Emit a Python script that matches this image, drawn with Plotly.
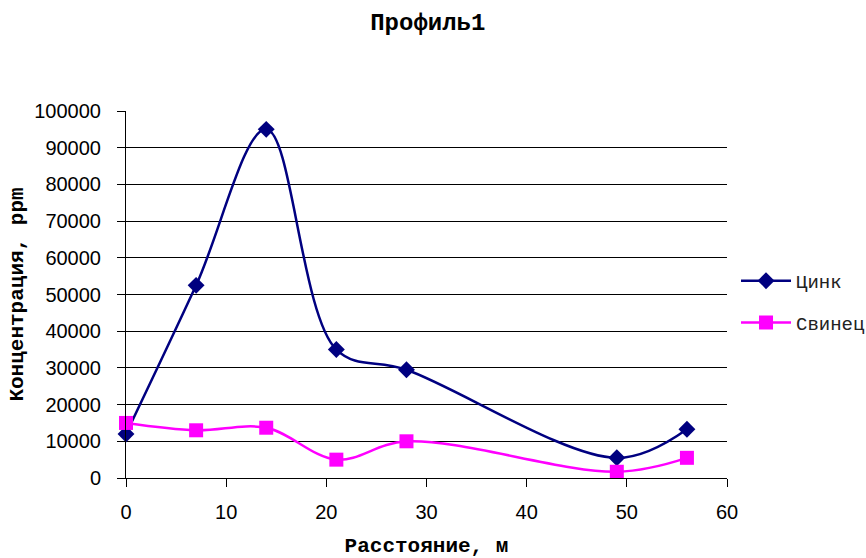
import plotly.graph_objects as go

distance = [0, 7, 14, 21, 28, 49, 56]
zinc = [12000, 52500, 95000, 35000, 29500, 5500, 13300]
lead = [15000, 13000, 13700, 5000, 10000, 1700, 5500]

title_text = "Профиль1"
x_title = "Расстояние, м"
y_title = "Концентрация, ppm"

mono = "Courier New, Nimbus Mono PS, Liberation Mono, monospace"

fig = go.Figure()
fig.add_trace(go.Scatter(
    x=distance, y=zinc, name="Цинк", mode="lines+markers",
    line=dict(color="#000080", width=2.5, shape="spline", smoothing=1.0),
    marker=dict(symbol="diamond", size=13, color="#000080"),
    legendgroup="a", cliponaxis=False,
))
fig.add_trace(go.Scatter(
    x=distance, y=lead, name="Свинец", mode="lines+markers",
    line=dict(color="#FF00FF", width=2.5, shape="spline", smoothing=1.0),
    marker=dict(symbol="square", size=14, color="#FF00FF"),
    legendgroup="b", cliponaxis=False,
))

fig.update_layout(
    width=866, height=558,
    margin=dict(l=126, r=139, t=111, b=80, autoexpand=False),
    paper_bgcolor="white", plot_bgcolor="white",
    title=dict(text=title_text, x=0.494, xanchor="center", y=0.9606, yanchor="middle",
               font=dict(family=mono, size=24, color="black", weight="bold")),
    legend=dict(x=1.015, y=0.48, xanchor="left", yanchor="middle",
                font=dict(family=mono, size=19, color="#222"),
                tracegroupgap=14, itemwidth=50, bgcolor="rgba(0,0,0,0)"),
    xaxis=dict(range=[0, 60], tickvals=[0, 10, 20, 30, 40, 50, 60],
               showline=True, linecolor="black", linewidth=1,
               ticks="outside", ticklen=8, tickcolor="black",
               ticklabelstandoff=8,
               showgrid=False, zeroline=False,
               tickfont=dict(family="Liberation Sans", size=20, color="black"),
               title=dict(text=x_title, standoff=20,
                          font=dict(family=mono, size=21, color="black", weight="bold"))),
    yaxis=dict(range=[0, 100000], dtick=10000, tickformat="d",
               showline=True, linecolor="black", linewidth=1,
               ticks="outside", ticklen=8, tickcolor="black",
               ticklabelstandoff=12,
               showgrid=True, gridcolor="black", gridwidth=1, zeroline=False,
               tickfont=dict(family="Liberation Sans", size=20, color="black"),
               title=dict(text=y_title, standoff=4,
                          font=dict(family=mono, size=21, color="black", weight="bold"))),
)

fig.write_html("out.html")
